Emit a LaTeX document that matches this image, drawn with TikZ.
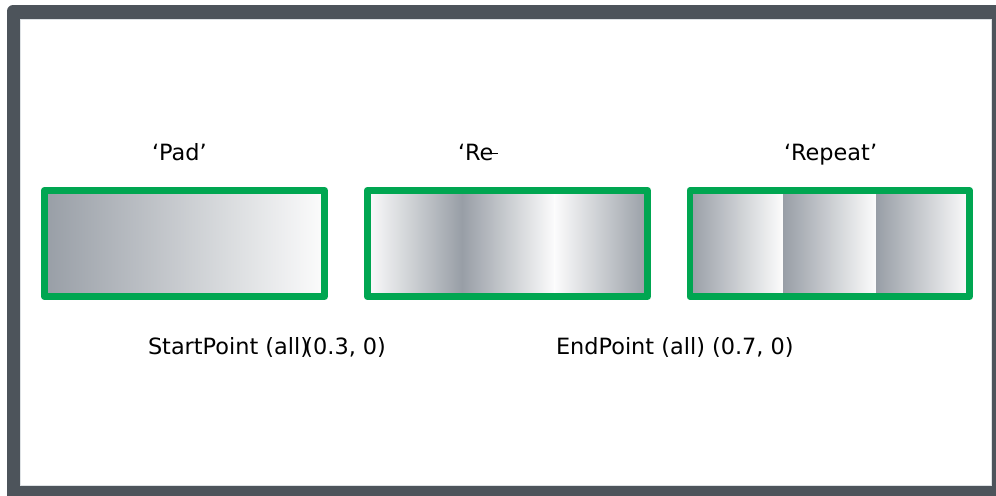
\documentclass[tikz,border=0pt]{standalone}
\usepackage{fontspec}
\setmainfont{DejaVu Sans}
\definecolor{framegray}{RGB}{77,84,91}
\definecolor{edgegray}{RGB}{222,226,229}
\definecolor{boxgreen}{RGB}{0,166,81}
\definecolor{shadegray}{RGB}{152,158,166}
\definecolor{shadewhite}{RGB}{252,252,252}
\tikzset{
  lbl/.style={inner sep=0pt, outer sep=0pt, anchor=base west, font=\fontsize{11.2}{13}\selectfont, text=black},
  boxline/.style={draw=boxgreen, line width=3.3pt, line join=round}
}
\begin{document}
\begin{tikzpicture}[x=0.5pt,y=-0.5pt]
\useasboundingbox (0,0) rectangle (996,495);
% frame
\fill[framegray, rounded corners=3pt] (7,5) rectangle (1010,510);
\fill[white] (20.5,19) rectangle (991.5,485);
\draw[edgegray, line width=0.5pt] (20.5,19) rectangle (991.5,485);
% box 1 : Pad
\shade[left color=shadegray, right color=shadewhite] (44.3,190.3) rectangle (324.7,296.7);
\draw[boxline] (44.3,190.3) rectangle (324.7,296.7);
% box 2 : Reflect
\shade[left color=shadewhite, right color=shadegray] (367.3,190.3) rectangle (462,296.7);
\shade[left color=shadegray, right color=shadewhite] (462,190.3) rectangle (554.5,296.7);
\shade[left color=shadewhite, right color=shadegray] (554.5,190.3) rectangle (647.7,296.7);
\draw[boxline] (367.3,190.3) rectangle (647.7,296.7);
% box 3 : Repeat
\shade[left color=shadegray, right color=shadewhite] (690,190.3) rectangle (783,296.7);
\shade[left color=shadegray, right color=shadewhite] (783,190.3) rectangle (876,296.7);
\shade[left color=shadegray, right color=shadewhite] (876,190.3) rectangle (969.7,296.7);
\draw[boxline] (690,190.3) rectangle (969.7,296.7);
% titles
\node[lbl] (tpad) at (152,160) {‘Pad’};
\node[lbl] (tre) at (458,160) {‘Re};
\draw[line width=0.75pt] (486,153.5) -- (498,153.5);
\node[lbl] (trep) at (784,160) {‘Repeat’};
% bottom labels
\node[lbl] (start) at (148,354) {StartPoint (all)};
\node[lbl, anchor=base east] (startval) at (386,354) {(0.3, 0)};
\node[lbl] (endp) at (556,354) {EndPoint (all) (0.7, 0)};
\end{tikzpicture}
\end{document}
